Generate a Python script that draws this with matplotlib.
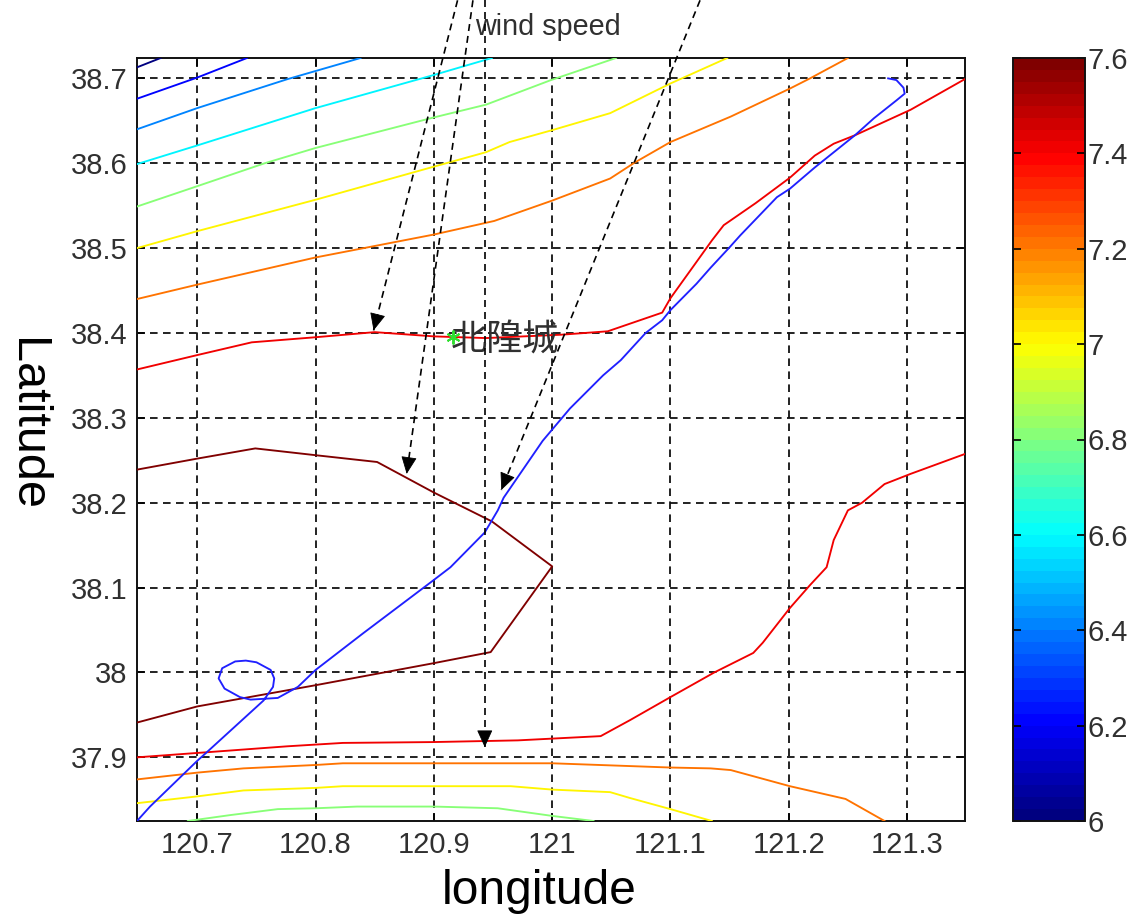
import matplotlib
matplotlib.use("Agg")
import matplotlib.pyplot as plt
from matplotlib.colors import LinearSegmentedColormap, Normalize
from matplotlib.cm import ScalarMappable

plt.rcParams['font.family'] = ['Liberation Sans', 'DejaVu Sans']

# contour lines: (level, lon, lat)
c60_lon = [120.649, 120.669]
c60_lat = [38.713, 38.724]
c62_lon = [120.649, 120.70, 120.742]
c62_lat = [38.676, 38.701, 38.724]
c64_lon = [120.649, 120.70, 120.776, 120.838]
c64_lat = [38.64, 38.665, 38.699, 38.724]
c66_lon = [120.649, 120.70, 120.80, 120.90, 120.949]
c66_lat = [38.599, 38.621, 38.665, 38.704, 38.724]
c68_lon = [120.649, 120.70, 120.757, 120.80, 120.90, 120.944, 120.999, 121.054]
c68_lat = [38.549, 38.573, 38.60, 38.618, 38.654, 38.669, 38.698, 38.724]
c70_lon = [120.649, 120.70, 120.80, 120.90, 120.944, 120.964, 121.0, 121.049, 121.10, 121.148]
c70_lat = [38.50, 38.52, 38.557, 38.596, 38.613, 38.625, 38.639, 38.659, 38.694, 38.724]
c72_lon = [120.649, 120.70, 120.80, 120.90, 120.951, 121.0, 121.049, 121.07, 121.10, 121.151, 121.201, 121.218, 121.25]
c72_lat = [38.44, 38.457, 38.489, 38.516, 38.532, 38.556, 38.582, 38.601, 38.625, 38.655, 38.688, 38.70, 38.724]
c74a_lon = [120.649, 120.70, 120.746, 120.80, 120.85, 120.90, 120.944, 121.008, 121.047, 121.093, 121.10, 121.117,
            121.135, 121.145, 121.172, 121.201, 121.222, 121.238, 121.256, 121.303, 121.35]
c74a_lat = [38.357, 38.374, 38.389, 38.395, 38.401, 38.396, 38.394, 38.398, 38.402, 38.424, 38.441, 38.474,
            38.509, 38.527, 38.553, 38.583, 38.609, 38.623, 38.633, 38.663, 38.70]
c74b_lon = [120.649, 120.708, 120.776, 120.823, 120.899, 120.971, 121.041, 121.066, 121.10, 121.137, 121.17, 121.178,
            121.201, 121.218, 121.232, 121.238, 121.25, 121.262, 121.281, 121.303, 121.35]
c74b_lat = [37.90, 37.906, 37.913, 37.917, 37.918, 37.92, 37.925, 37.944, 37.971, 38.0, 38.023, 38.035,
            38.076, 38.103, 38.124, 38.156, 38.191, 38.20, 38.222, 38.234, 38.258]
c76_lon = [120.649, 120.70, 120.749, 120.80, 120.852, 120.90, 120.949, 121.0, 120.948, 120.90, 120.80, 120.70, 120.649]
c76_lat = [38.239, 38.252, 38.264, 38.256, 38.248, 38.212, 38.178, 38.125, 38.024, 38.011, 37.985, 37.96, 37.941]
c72b_lon = [120.649, 120.70, 120.739, 120.80, 120.823, 120.90, 121.0, 121.10, 121.134, 121.151, 121.201, 121.248, 121.281]
c72b_lat = [37.874, 37.882, 37.887, 37.891, 37.893, 37.893, 37.893, 37.888, 37.887, 37.885, 37.866, 37.851, 37.825]
c70b_lon = [120.649, 120.70, 120.739, 120.80, 120.823, 120.90, 120.965, 121.0, 121.049, 121.066, 121.10, 121.135]
c70b_lat = [37.846, 37.854, 37.861, 37.864, 37.866, 37.866, 37.866, 37.862, 37.859, 37.852, 37.839, 37.825]
c68b_lon = [120.692, 120.728, 120.768, 120.80, 120.835, 120.90, 120.954, 121.0, 121.035]
c68b_lat = [37.825, 37.832, 37.839, 37.84, 37.842, 37.842, 37.84, 37.831, 37.825]

contours = [
    (6.0, c60_lon, c60_lat), (6.2, c62_lon, c62_lat), (6.4, c64_lon, c64_lat),
    (6.6, c66_lon, c66_lat), (6.8, c68_lon, c68_lat), (7.0, c70_lon, c70_lat),
    (7.2, c72_lon, c72_lat), (7.4, c74a_lon, c74a_lat), (7.4, c74b_lon, c74b_lat),
    (7.6, c76_lon, c76_lat), (7.2, c72b_lon, c72b_lat), (7.0, c70b_lon, c70b_lat),
    (6.8, c68b_lon, c68b_lat),
]

# ship track
track_lon = [120.649, 120.66, 120.70, 120.708, 120.756, 120.764, 120.765, 120.762, 120.75, 120.741, 120.732, 120.721,
             120.718, 120.723, 120.736, 120.745, 120.768, 120.785, 120.80, 120.84, 120.899, 120.914, 120.943, 120.954,
             120.959, 120.992, 121.015, 121.043, 121.058, 121.079, 121.093, 121.10, 121.122, 121.134, 121.15,
             121.159, 121.19, 121.201, 121.222, 121.256, 121.272, 121.291, 121.298, 121.297, 121.291, 121.284]
track_lat = [37.825, 37.842, 37.896, 37.906, 37.967, 37.983, 37.993, 38.003, 38.012, 38.014, 38.013, 38.005,
             37.993, 37.981, 37.971, 37.968, 37.97, 37.983, 38.003, 38.046, 38.108, 38.124, 38.165, 38.191,
             38.206, 38.273, 38.311, 38.35, 38.368, 38.40, 38.415, 38.427, 38.458, 38.477, 38.501,
             38.515, 38.56, 38.57, 38.595, 38.633, 38.653, 38.674, 38.682, 38.689, 38.698, 38.70]

# wind arrows
arrow_start_lon = [120.92, 120.933, 120.943, 121.125]
arrow_start_lat = [38.792, 38.792, 38.792, 38.792]
arrow_end_lon = [120.849, 120.877, 120.943, 120.957]
arrow_end_lat = [38.403, 38.234, 37.912, 38.215]

station_lon = 120.916
station_lat = 38.395
station_name = "北隍城"

x_ticks = [120.7, 120.8, 120.9, 121.0, 121.1, 121.2, 121.3]
x_labels = ["120.7", "120.8", "120.9", "121", "121.1", "121.2", "121.3"]
y_ticks = [37.9, 38.0, 38.1, 38.2, 38.3, 38.4, 38.5, 38.6, 38.7]
y_labels = ["37.9", "38", "38.1", "38.2", "38.3", "38.4", "38.5", "38.6", "38.7"]
cbar_ticks = [6.0, 6.2, 6.4, 6.6, 6.8, 7.0, 7.2, 7.4, 7.6]
cbar_labels = ["6", "6.2", "6.4", "6.6", "6.8", "7", "7.2", "7.4", "7.6"]

W, H = 1135, 915
fig = plt.figure(figsize=(W / 100, H / 100), dpi=100)
ax = fig.add_axes([137 / W, 1 - 821 / H, 828 / W, 763 / H])
cax = fig.add_axes([1013 / W, 1 - 821 / H, 72 / W, 763 / H])

jet = LinearSegmentedColormap.from_list(
    "matlab_jet",
    [(0, (0, 0, .5)), (.125, (0, 0, 1)), (.375, (0, 1, 1)), (.625, (1, 1, 0)), (.875, (1, 0, 0)), (1, (.5, 0, 0))],
    N=64)
norm = Normalize(6.0, 7.6)

LW = 1.35
DASH = (0, (4.2, 3.0))
for level, lon, lat in contours:
    ax.plot(lon, lat, color=jet(norm(level)), lw=LW, zorder=3)
ax.plot(track_lon, track_lat, color="#2020ff", lw=LW, zorder=4)
ax.text(station_lon - 0.002, station_lat - 0.004, station_name, family=["Noto Sans CJK SC", "DejaVu Sans"],
        fontsize=26, color="#303030", va="center", ha="left", zorder=6)
ax.plot([station_lon], [station_lat], ls="none", marker=(6, 2, 0), ms=10, mew=1.4, color="#30e030", zorder=7)

for x0, y0, x1, y1 in zip(arrow_start_lon, arrow_start_lat, arrow_end_lon, arrow_end_lat):
    ax.plot([x0, x1], [y0, y1], color="black", lw=1.2, ls=DASH, clip_on=False, zorder=7)
    ax.annotate("", xy=(x1, y1), xytext=(x1 + 0.02 * (x0 - x1), y1 + 0.02 * (y0 - y1)),
                annotation_clip=False, zorder=8,
                arrowprops=dict(arrowstyle="-|>,head_length=11,head_width=5", mutation_scale=1,
                                shrinkA=0, shrinkB=0, lw=0.6, color="black", fc="black"))

ax.text(120.935, 38.761, "wind speed", fontsize=20.7, color="#303030", va="center", ha="left", clip_on=False)

ax.set_xlim(120.649, 121.349)
ax.set_ylim(37.825, 38.724)
ax.set_xticks(x_ticks, x_labels)
ax.set_yticks(y_ticks, y_labels)
ax.set_axisbelow(True)
ax.grid(True, color="#111111", lw=1.3, ls=DASH)
ax.tick_params(axis="both", direction="in", length=6, width=1.2, top=True, right=True,
               labelsize=21, labelcolor="#303030", pad=7)
for s in ax.spines.values():
    s.set_linewidth(1.4)
    s.set_color("#111111")

sm = ScalarMappable(norm=norm, cmap=jet)
cb = fig.colorbar(sm, cax=cax, ticks=cbar_ticks)
cb.ax.set_yticklabels(cbar_labels)
cb.ax.yaxis.set_ticks_position("both")
cb.ax.yaxis.set_label_position("right")
cb.ax.tick_params(axis="y", direction="in", length=6, width=1.2, left=True, right=True,
                  labelleft=False, labelright=True, labelsize=21, labelcolor="#303030", pad=2)
cb.outline.set_linewidth(1.4)
cb.outline.set_edgecolor("#111111")

fig.text(539 / W, 1 - 891 / H, "longitude", fontsize=34.5, color="black", ha="center", va="center")
fig.text(26 / W, 1 - 425 / H, "Latitude", fontsize=35, color="black", rotation=270, ha="center", va="center")

fig.savefig("out.png", dpi=100)
